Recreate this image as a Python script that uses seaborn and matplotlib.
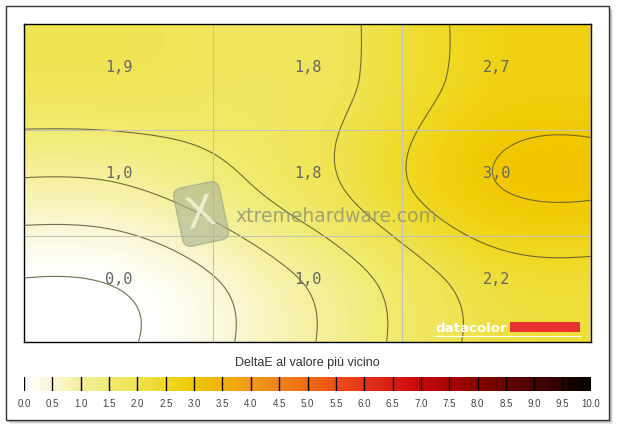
import numpy as np
import matplotlib
matplotlib.use("Agg")
import matplotlib.pyplot as plt
import seaborn as sns
from matplotlib.cm import ScalarMappable
from matplotlib.colors import LinearSegmentedColormap, Normalize
from matplotlib.patches import Rectangle

# DeltaE measured at the 9 screen zones (rows top -> bottom, columns left -> right)
delta_top = [1.9, 1.8, 2.7]
delta_mid = [1.0, 1.8, 3.0]
delta_bot = [0.0, 1.0, 2.2]

contour_levels = [0.0, 0.5, 1.0, 1.5, 2.0, 2.5, 3.0]
scale_ticks = [0.0, 0.5, 1.0, 1.5, 2.0, 2.5, 3.0, 3.5, 4.0, 4.5, 5.0,
               5.5, 6.0, 6.5, 7.0, 7.5, 8.0, 8.5, 9.0, 9.5, 10.0]
scale_colors = ["#ffffff", "#faf6d2", "#f5f09c", "#f1ea70", "#eee34e", "#efd822",
                "#f0c800", "#efb204", "#f09a14", "#f0821a", "#ee6a14", "#ec5014",
                "#e63418", "#d81a12", "#c40a08", "#a80202", "#8a0000", "#6a0000",
                "#4a0000", "#280000", "#000000"]
title = "DeltaE al valore più vicino"

W, H = 617, 429


def catrom_matrix(n_out, n_in=3):
    # Catmull-Rom resampling weights (edge-clamped) from cell centres to pixels
    p = (np.arange(n_out) + 0.5) / n_out * n_in - 0.5
    i = np.floor(p).astype(int)
    t = p - i
    w = np.stack([(-t**3 + 2 * t**2 - t) / 2, (3 * t**3 - 5 * t**2 + 2) / 2,
                  (-3 * t**3 + 4 * t**2 + t) / 2, (t**3 - t**2) / 2], axis=1)
    m = np.zeros((n_out, n_in))
    for k in range(4):
        idx = np.clip(i - 1 + k, 0, n_in - 1)
        np.add.at(m, (np.arange(n_out), idx), w[:, k])
    return m


def fig_rect(x0, y0, x1, y1):
    return [x0 / W, 1 - y1 / H, (x1 - x0) / W, (y1 - y0) / H]


sns.set_style("white")
cmap = LinearSegmentedColormap.from_list(
    "deltae", list(zip(np.array(scale_ticks) / 10, scale_colors)))

grid = np.array([delta_top, delta_mid, delta_bot])
nx, ny = 567, 318
field = catrom_matrix(ny) @ grid @ catrom_matrix(nx).T

fig = plt.figure(figsize=(W / 100, H / 100), dpi=100)

# outer frame with drop shadow
for off, a in [(4, 0.15), (3, 0.25), (2, 0.35)]:
    fig.add_artist(Rectangle(((6 + off) / W, 1 - (420 + off) / H), 603 / W, 414 / H,
                             transform=fig.transFigure, fc="#808080", ec="none",
                             alpha=a, zorder=-3))
fig.add_artist(Rectangle((6 / W, 1 - 420 / H), 603 / W, 414 / H, transform=fig.transFigure,
                         fc="white", ec="#333333", lw=1, zorder=-2))

ax = fig.add_axes(fig_rect(24, 24, 591, 342))
sns.heatmap(field, ax=ax, cmap=cmap, vmin=0, vmax=10, cbar=False,
            xticklabels=False, yticklabels=False, rasterized=True)
xs = np.arange(nx) + 0.5
ys = np.arange(ny) + 0.5
ax.contour(xs, ys, field, levels=contour_levels, colors="#5a5632", linewidths=0.8, alpha=0.85)

for k in (1, 2):
    ax.axvline(k * nx / 3, color="#c4c4b4", lw=0.8)
    ax.axhline(k * ny / 3, color="#c4c4b4", lw=0.8)
for s in ax.spines.values():
    s.set_visible(True)
    s.set_color("black")
    s.set_linewidth(1)

for r, row in enumerate(grid):
    for c, v in enumerate(row):
        ax.text((c + 0.5) * nx / 3, (r + 0.5) * ny / 3 - 10, f"{v:.1f}".replace(".", ","),
                ha="center", va="center", fontsize=11, family="DejaVu Sans Mono",
                color="#666666")

# watermarks
ax.text(177, 190, "X", ha="center", va="center", fontsize=31, color="#f2f4d6",
        rotation=12, alpha=0.85,
        bbox=dict(boxstyle="round,pad=0.2", fc="#a9b195", ec="#98a084", alpha=0.6))
ax.text(211, 193, "xtremehardware.com", ha="left", va="center", fontsize=13.5,
        family="DejaVu Sans", color="#8a9274", alpha=0.8)
ax.text(411, 308, "datacolor", ha="left", va="baseline", fontsize=9.6, fontweight="bold",
        color="white")
ax.add_patch(Rectangle((486, 298), 70, 10, fc="#e83232", ec="none"))
ax.plot([411, 556], [312, 312], color="white", lw=0.8)

fig.text(307.5 / W, 1 - 363 / H, title, ha="center", va="center", fontsize=9,
         family="Liberation Sans", color="#333333")

cax = fig.add_axes(fig_rect(24, 377, 591, 391))
cb = fig.colorbar(ScalarMappable(Normalize(0, 10), cmap), cax=cax,
                  orientation="horizontal", ticks=scale_ticks)
cb.outline.set_visible(False)
for t in scale_ticks[:-1]:
    cax.axvline(t, color="black", lw=1)
cax.set_xticklabels([f"{t:.1f}" for t in scale_ticks], fontsize=7,
                    family="Liberation Sans", color="#444444")
cax.tick_params(axis="x", length=0, pad=6)

fig.savefig("out.png", dpi=100)
